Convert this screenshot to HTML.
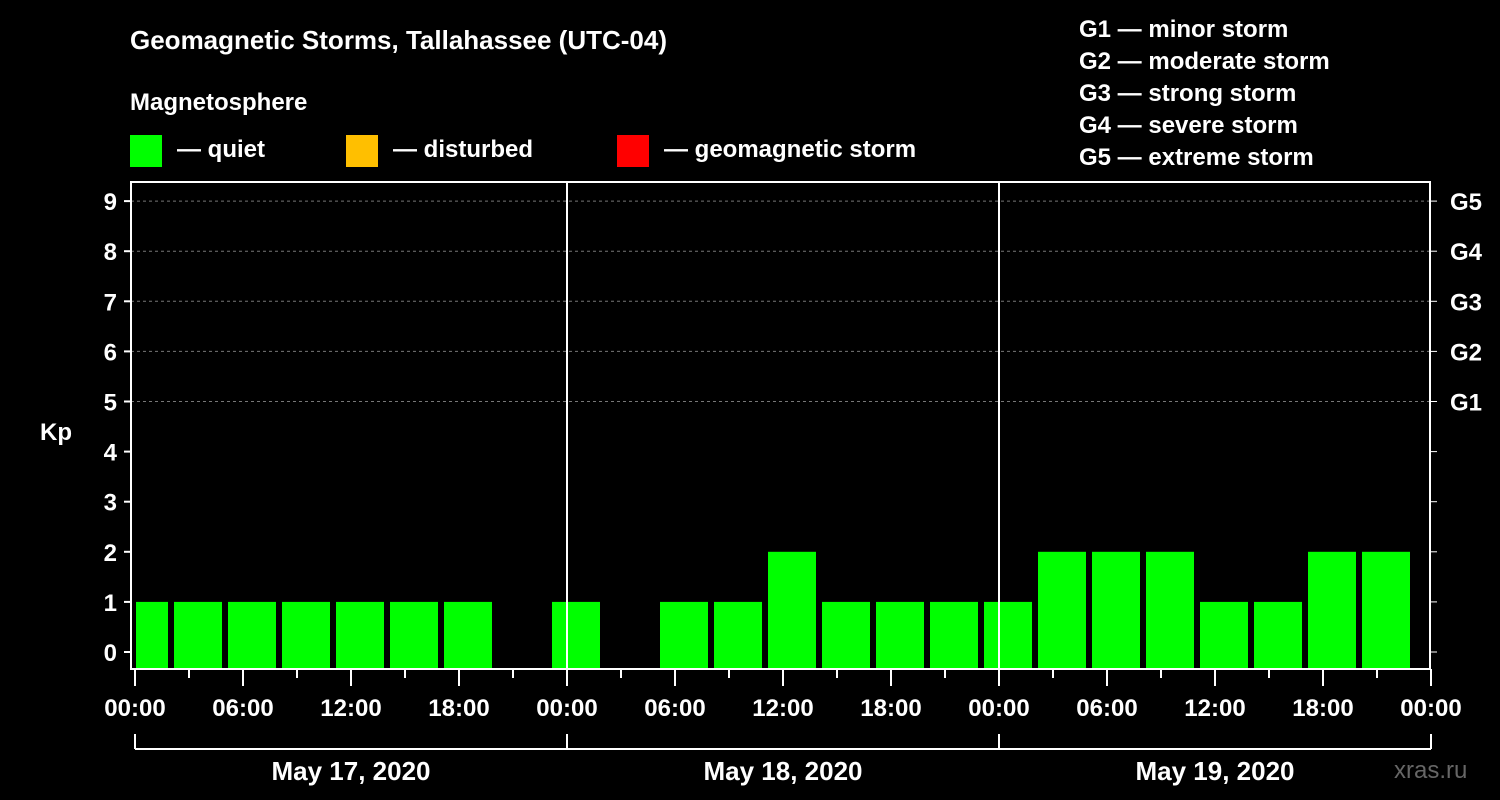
<!DOCTYPE html>
<html><head><meta charset="utf-8"><style>
html,body{margin:0;padding:0;background:#000;width:1500px;height:800px;overflow:hidden}
svg{display:block;font-family:"Liberation Sans",Arial,sans-serif;font-weight:bold}
</style></head><body>
<svg id="c" width="1500" height="800">
<text x="130" y="49" font-size="26" fill="#fff">Geomagnetic Storms, Tallahassee (UTC-04)</text>
<text x="130" y="110" font-size="24" fill="#fff">Magnetosphere</text>
<g>
<rect x="130" y="135" width="32" height="32" fill="#00ff00"/>
<text x="177" y="157" font-size="24" fill="#fff">— quiet</text>
<rect x="346" y="135" width="32" height="32" fill="#ffbf00"/>
<text x="393" y="157" font-size="24" fill="#fff">— disturbed</text>
<rect x="617" y="135" width="32" height="32" fill="#ff0000"/>
<text x="664" y="157" font-size="24" fill="#fff">— geomagnetic storm</text>
</g>
<g font-size="24" fill="#fff">
<text x="1079" y="37">G1 — minor storm</text>
<text x="1079" y="69">G2 — moderate storm</text>
<text x="1079" y="101">G3 — strong storm</text>
<text x="1079" y="133">G4 — severe storm</text>
<text x="1079" y="165">G5 — extreme storm</text>
</g>
<text x="40" y="440" font-size="24" fill="#fff">Kp</text>
<text x="1394" y="778" font-size="24" fill="#666" font-weight="normal">xras.ru</text>
<g id="plot"></g>
</svg>
<script>
const days = ["May 17, 2020","May 18, 2020","May 19, 2020"];
const binStartHours = [-1,2,5,8,11,14,17,20,23,26,29,32,35,38,41,44,47,50,53,56,59,62,65,68];
const kpValues = [1,1,1,1,1,1,1,null,1,null,1,1,2,1,1,1,1,2,2,2,1,1,2,2];
const yTicks = [0,1,2,3,4,5,6,7,8,9];
const gLabels = ["G1","G2","G3","G4","G5"];
const xLabels = ["00:00","06:00","12:00","18:00"];

const NS="http://www.w3.org/2000/svg";
const plot=document.getElementById('plot');
const X0=135, PX_H=18, L=131, R=1430, T=182, B=669;
const x=h=>Math.max(X0, X0+h*PX_H);
const y=v=>652-v*50.1;
function mk(t,a,p){const e=document.createElementNS(NS,t);for(const k in a)e.setAttribute(k,a[k]);(p||plot).appendChild(e);return e;}
// gridlines
yTicks.forEach(v=>{
  if(v>=5){const g=mk('line',{x1:L,x2:R,y1:y(v),y2:y(v),stroke:'#777','stroke-dasharray':'3,3'});
  
  }
  mk('line',{x1:L-7,x2:L,y1:y(v),y2:y(v),stroke:'#fff','stroke-width':2});
  mk('line',{x1:R,x2:R+7,y1:y(v),y2:y(v),stroke:'#fff','stroke-width':1});
  const t=mk('text',{x:L-14,y:y(v)+9,'font-size':24,fill:'#fff','text-anchor':'end'});t.textContent=v;
  
  
});
gLabels.forEach((g,i)=>{const t=mk('text',{x:R+20,y:y(5+i)+9,'font-size':24,fill:'#fff'});t.textContent=g;
  
  });
// bars
binStartHours.forEach((h,i)=>{const v=kpValues[i];if(v==null)return;
  const x1=x(h)+(h<0?1:3), x2=Math.min(x(h+3),X0+72*PX_H)-3;
  const r=mk('rect',{x:x1,y:y(v),width:x2-x1,height:B-1-y(v),fill:'#00ff00'});
  
  
});
// day separators
[1,2].forEach(d=>mk('line',{x1:X0+d*432,x2:X0+d*432,y1:T,y2:B,stroke:'#fff','stroke-width':2}));
// frame
mk('rect',{x:L,y:T,width:R-L,height:B-T,fill:'none',stroke:'#fff','stroke-width':2});
// x ticks
for(let h=0;h<=72;h+=3){const xx=X0+h*PX_H;mk('line',{x1:xx,x2:xx,y1:B,y2:h%6==0?686:678,stroke:'#fff','stroke-width':2});
  if(h%6==0){const t=mk('text',{x:xx,y:716,'font-size':24,fill:'#fff','text-anchor':'middle'});t.textContent=xLabels[(h%24)/6];
  
  }}
// day bracket
mk('line',{x1:X0,x2:X0+72*PX_H,y1:749,y2:749,stroke:'#fff','stroke-width':2});
for(let d=0;d<=3;d++)mk('line',{x1:X0+d*432,x2:X0+d*432,y1:734,y2:749,stroke:'#fff','stroke-width':2});
days.forEach((s,d)=>{const t=mk('text',{x:X0+d*432+216,y:780,'font-size':26,fill:'#fff','text-anchor':'middle'});t.textContent=s;
  
  });
</script>
</body></html>
